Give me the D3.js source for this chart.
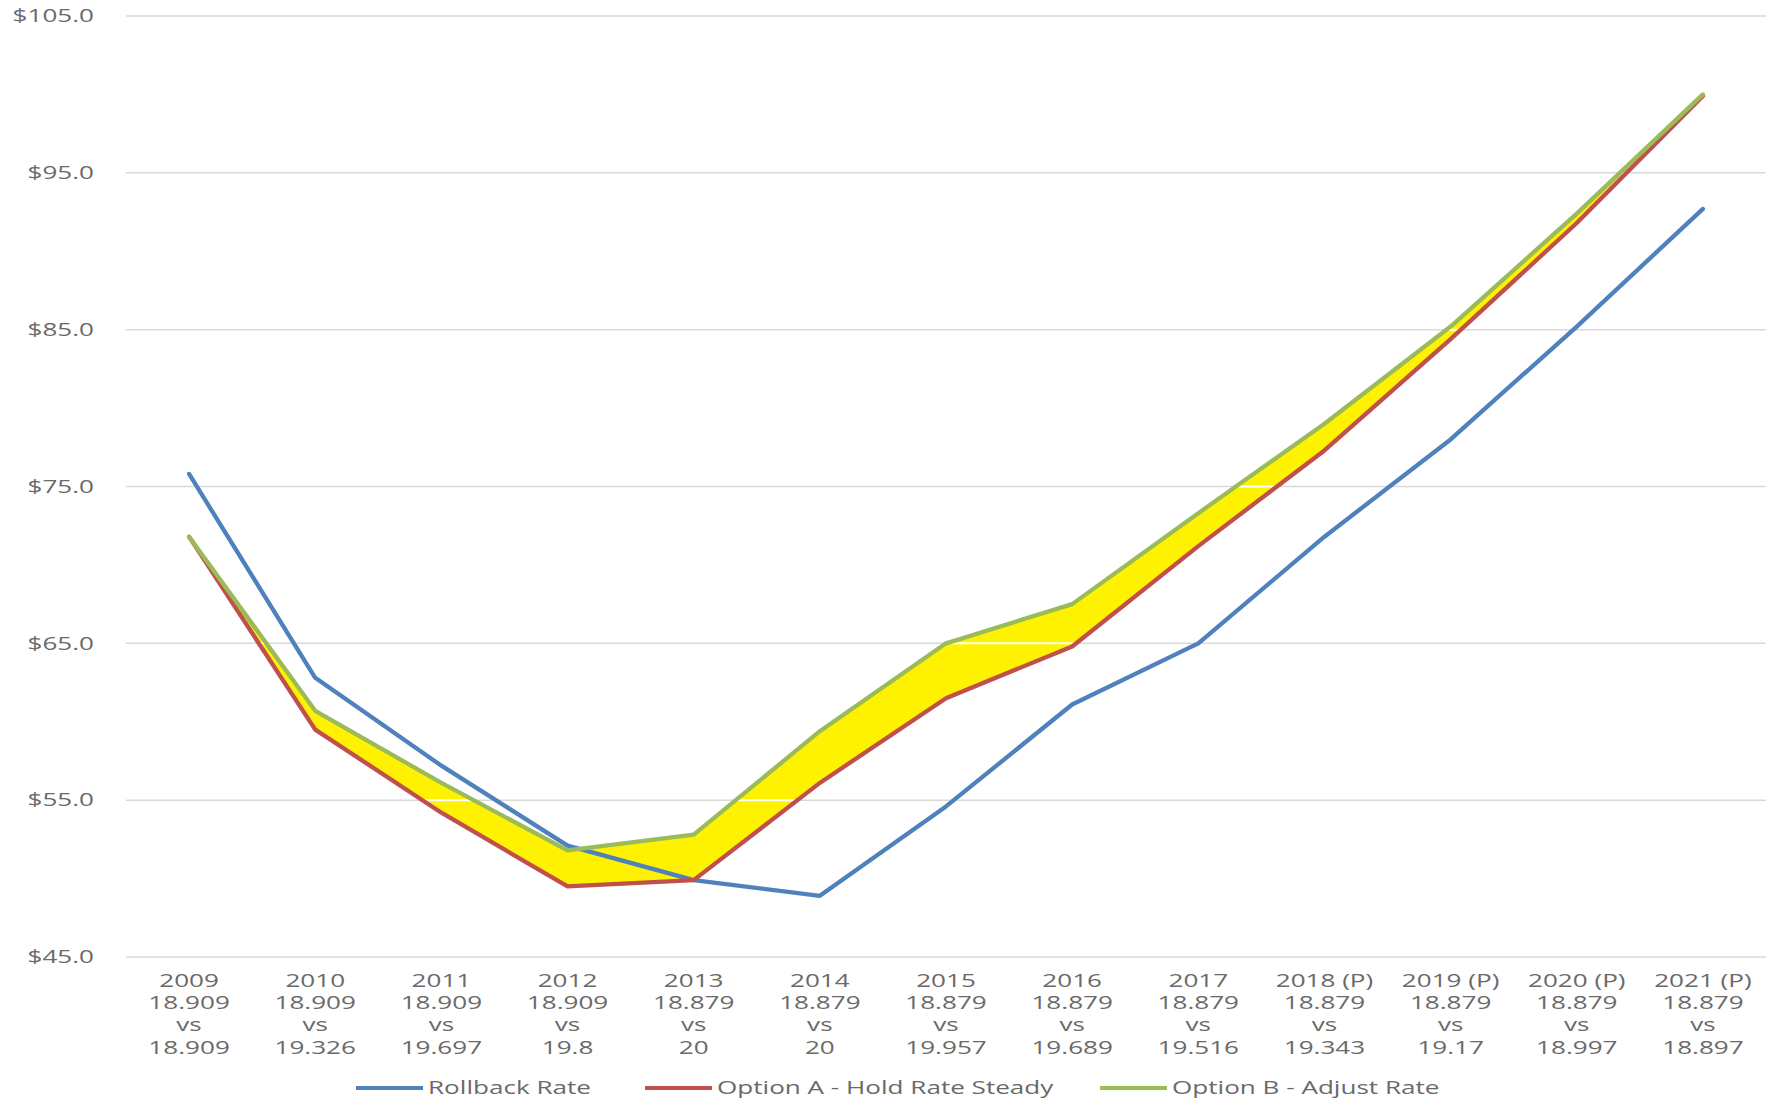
<!DOCTYPE html>
<html>
<head>
<meta charset="utf-8">
<script src="https://cdn.jsdelivr.net/npm/d3@7/dist/d3.min.js"></script>
<style>
  html, body { margin: 0; padding: 0; background: #fff; }
  svg text { font-family: "Open Sans", sans-serif; fill: #6a6a6a; }
</style>
</head>
<body>
<svg id="chart" width="1769" height="1110"></svg>
<script>
const years = ["2009","2010","2011","2012","2013","2014","2015","2016","2017","2018 (P)","2019 (P)","2020 (P)","2021 (P)"];
const rateA = ["18.909","18.909","18.909","18.909","18.879","18.879","18.879","18.879","18.879","18.879","18.879","18.879","18.879"];
const rateB = ["18.909","19.326","19.697","19.8","20","20","19.957","19.689","19.516","19.343","19.17","18.997","18.897"];
const rollback = [75.8, 62.8, 57.2, 52.1, 49.9, 48.9, 54.6, 61.1, 65.0, 71.8, 78.0, 85.2, 92.7];
const optionA  = [71.8, 59.5, 54.2, 49.5, 49.9, 56.1, 61.5, 64.8, 71.2, 77.3, 84.4, 91.8, 99.9];
const optionB  = [71.8, 60.7, 56.1, 51.8, 52.8, 59.4, 65.0, 67.5, 73.3, 79.0, 85.2, 92.4, 100.0];
const yTicks = [45, 55, 65, 75, 85, 95, 105];
const seriesNames = ["Rollback Rate", "Option A - Hold Rate Steady", "Option B - Adjust Rate"];
const seriesColors = ["#4f81bd", "#c0504d", "#9bbb59"];
const bandColor = "#fff200";

(function () {
const svg = d3.select("#chart");
const pLeft = 126, pRight = 1766, pTop = 16, pBottom = 957;
const x = d3.scaleBand().domain(years).range([pLeft, pRight]);
const y = d3.scaleLinear().domain([45, 105]).range([pBottom, pTop]);
const cx = d => x(d) + x.bandwidth() / 2;
const SX = 1.45;

// gridlines
svg.append("g").selectAll("line").data(yTicks).join("line")
  .attr("x1", pLeft).attr("x2", pRight)
  .attr("y1", d => y(d)).attr("y2", d => y(d))
  .attr("stroke", "#d9d9d9").attr("stroke-width", 1.5);

// y labels
svg.append("g").selectAll("text").data(yTicks).join("text")
  .attr("transform", d => `translate(94,${y(d)}) scale(${SX},1)`)
  .attr("text-anchor", "end").attr("dy", "0.35em")
  .style("font-size", "18px")
  .text(d => "$" + d3.format(".1f")(d));

// yellow band between option A and option B
const idx = d3.range(years.length);
const area = d3.area()
  .x(i => cx(years[i]))
  .y0(i => y(optionA[i]))
  .y1(i => y(optionB[i]));
svg.append("clipPath").attr("id", "bandclip").append("path").attr("d", area(idx));
svg.append("path").attr("d", area(idx)).attr("fill", bandColor);
svg.append("g").attr("clip-path", "url(#bandclip)")
  .selectAll("line").data(yTicks).join("line")
  .attr("x1", pLeft).attr("x2", pRight)
  .attr("y1", d => y(d)).attr("y2", d => y(d))
  .attr("stroke", "#ffffff").attr("stroke-width", 2);

// lines
const allSeries = [rollback, optionA, optionB];
const line = d3.line().x((d, i) => cx(years[i])).y(d => y(d));
svg.append("g").selectAll("path").data(allSeries).join("path")
  .attr("d", d => line(d))
  .attr("fill", "none")
  .attr("stroke", (d, i) => seriesColors[i])
  .attr("stroke-width", 4.3)
  .attr("stroke-linejoin", "round")
  .attr("stroke-linecap", "round");

// x labels
const lineYs = [981, 1003, 1025, 1048];
svg.append("g").selectAll("g").data(years).join("g").each(function (d, i) {
  const g = d3.select(this);
  const parts = [years[i], rateA[i], "vs", rateB[i]];
  parts.forEach((t, k) => {
    g.append("text")
      .attr("transform", `translate(${cx(d)},${lineYs[k]}) scale(${SX},1)`)
      .attr("text-anchor", "middle").attr("dy", "0.35em")
      .style("font-size", "18px")
      .text(t);
  });
});

// legend
const legendX = [356, 645, 1100];
const legendY = 1088;
const lg = svg.append("g").selectAll("g").data(seriesNames).join("g");
lg.append("line")
  .attr("x1", (d, i) => legendX[i]).attr("x2", (d, i) => legendX[i] + 67)
  .attr("y1", legendY).attr("y2", legendY)
  .attr("stroke", (d, i) => seriesColors[i]).attr("stroke-width", 4);
lg.append("text")
  .attr("transform", (d, i) => `translate(${legendX[i] + 72},${legendY}) scale(${SX},1)`)
  .attr("dy", "0.35em")
  .style("font-size", "18px")
  .text(d => d);
})();
</script>
</body>
</html>
